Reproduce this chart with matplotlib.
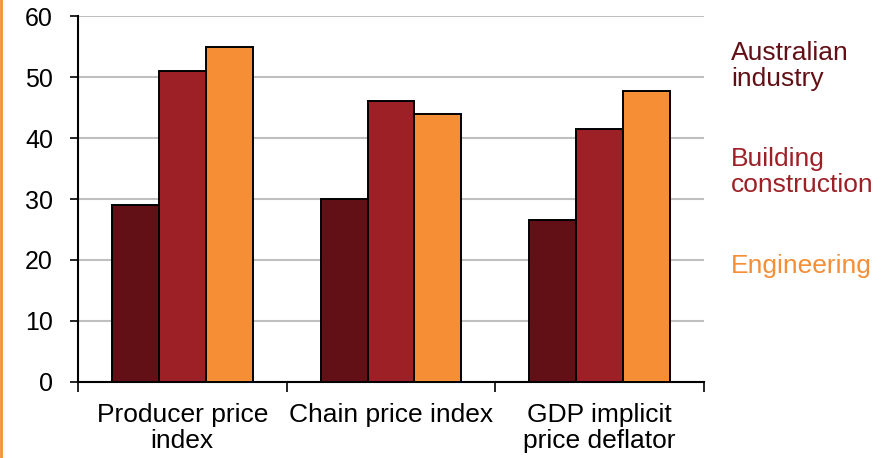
import numpy as np
import matplotlib.pyplot as plt
import matplotlib.transforms as mtransforms
from matplotlib.lines import Line2D

plt.rcParams["font.family"] = ["Liberation Sans", "DejaVu Sans"]

categories = ["Producer price\nindex", "Chain price index", "GDP implicit\nprice deflator"]
series_names = ["Australian\nindustry", "Building\nconstruction", "Engineering"]
australian_industry = [29.0, 30.0, 26.5]
building_construction = [51.0, 46.0, 41.5]
engineering = [55.0, 44.0, 47.7]
label_y = [51.8, 34.4, 19]

colors = ["#621015", "#9E2027", "#F58E35"]
values = [australian_industry, building_construction, engineering]

fig = plt.figure(figsize=(8.85, 4.58), dpi=100)
ax = fig.add_axes([0.0881, 0.166, 0.7074, 0.799])

x = np.arange(len(categories))
width = 0.225
for i, (vals, col) in enumerate(zip(values, colors)):
    ax.bar(x + (i - 1) * width, vals, width, color=col, edgecolor="black",
           linewidth=1.4, zorder=3)

ax.set_xlim(-0.5, len(categories) - 0.5)
ax.set_ylim(0, 60)
ax.set_yticks(range(0, 61, 10))
ax.tick_params(axis="y", labelsize=18, length=6, width=1.2, direction="out", pad=12)
ax.yaxis.grid(True, color="#bfbfbf", linewidth=1.5, zorder=0)

ax.set_xticks(x)
ax.set_xticklabels(categories, fontsize=19, linespacing=1.12)
ax.tick_params(axis="x", length=0, pad=15)
ax.set_xticks(np.arange(-0.5, len(categories)), minor=True)
ax.tick_params(axis="x", which="minor", length=7, width=1.2, direction="out")

for side in ["top", "right"]:
    ax.spines[side].set_visible(False)
for side in ["left", "bottom"]:
    ax.spines[side].set_linewidth(1.5)

trans = mtransforms.blended_transform_factory(ax.transAxes, ax.transData)
for name, col, yy in zip(series_names, colors, label_y):
    ax.text(1.043, yy, name, color=col, fontsize=19, ha="left", va="center",
            transform=trans, linespacing=1.12)

# orange rule on the left edge
fig.add_artist(Line2D([0.001, 0.001], [0, 1], color="#F58E35", linewidth=2,
                      transform=fig.transFigure))

fig.savefig("out.png", dpi=100)
